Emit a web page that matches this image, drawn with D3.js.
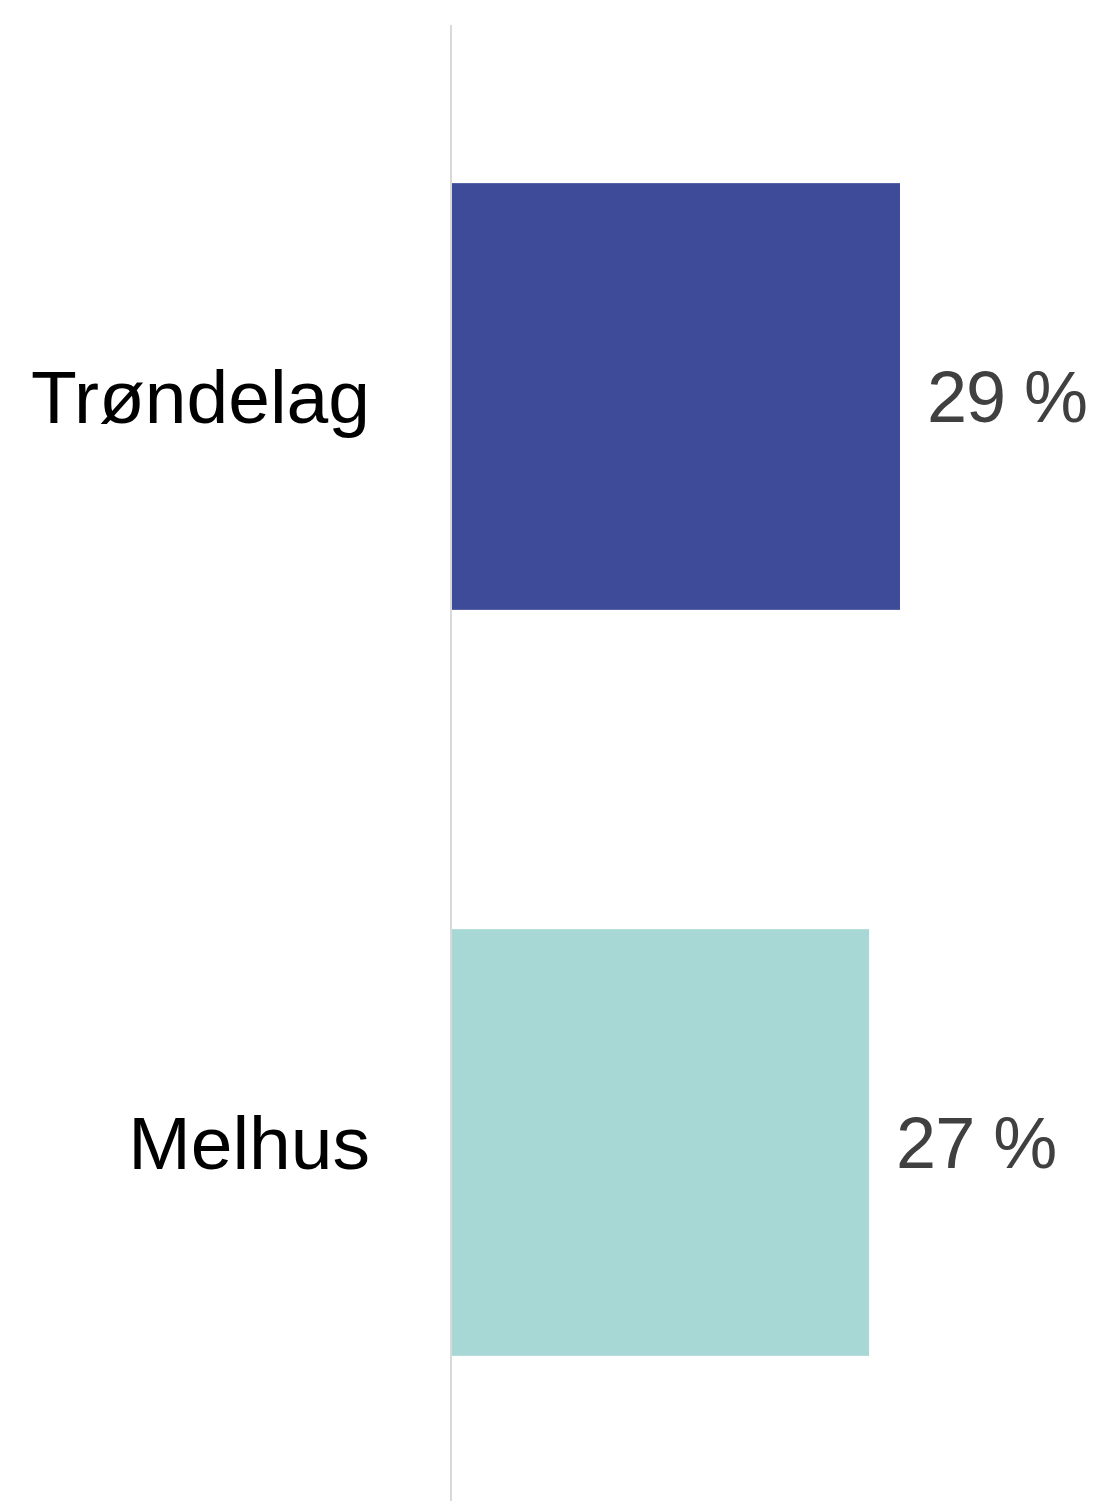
<!DOCTYPE html>
<html><head><meta charset="utf-8">
<script src="https://cdn.jsdelivr.net/npm/d3@7"></script>
<style>body{margin:0;background:#fff}</style>
</head><body>
<svg id="c" width="1097" height="1501"></svg>
<script>
const categories = ["Trøndelag", "Melhus"];
const values = [29, 27];
const valueLabels = ["29 %", "27 %"];
const colors = ["#3D4B98", "#A8D8D5"];

const svg = d3.select("#c");
const x0 = 452;
const x = d3.scaleLinear().domain([0, 29]).range([x0, 900]);
const y = d3.scaleBand().domain(categories).range([23.5, 1515.5]).paddingInner(0.428).paddingOuter(0.214);

svg.selectAll("rect.bar").data(categories).join("rect")
  .attr("x", x(0)).attr("y", d => y(d))
  .attr("width", (d, i) => x(values[i]) - x(0))
  .attr("height", y.bandwidth())
  .attr("fill", (d, i) => colors[i]);

svg.append("line").attr("x1", 451).attr("x2", 451).attr("y1", 25).attr("y2", 1501)
  .attr("stroke", "#D9D9D9").attr("stroke-width", 2);

svg.selectAll("text.cat").data(categories).join("text")
  .attr("x", 370).attr("y", d => y(d) + y.bandwidth() / 2)
  .attr("dy", "0.35em").attr("text-anchor", "end")
  .attr("font-family", "Liberation Sans, Arial, sans-serif").attr("font-size", 75)
  .attr("fill", "#000").text(d => d);

svg.selectAll("text.val").data(categories).join("text")
  .attr("x", (d, i) => x(values[i]) + 27).attr("y", d => y(d) + y.bandwidth() / 2)
  .attr("dy", "0.35em").attr("text-anchor", "start")
  .attr("font-family", "Liberation Sans, Arial, sans-serif").attr("font-size", 72)
  .attr("letter-spacing", -1)
  .attr("fill", "#404040").text((d, i) => valueLabels[i]);
</script>
</body></html>
